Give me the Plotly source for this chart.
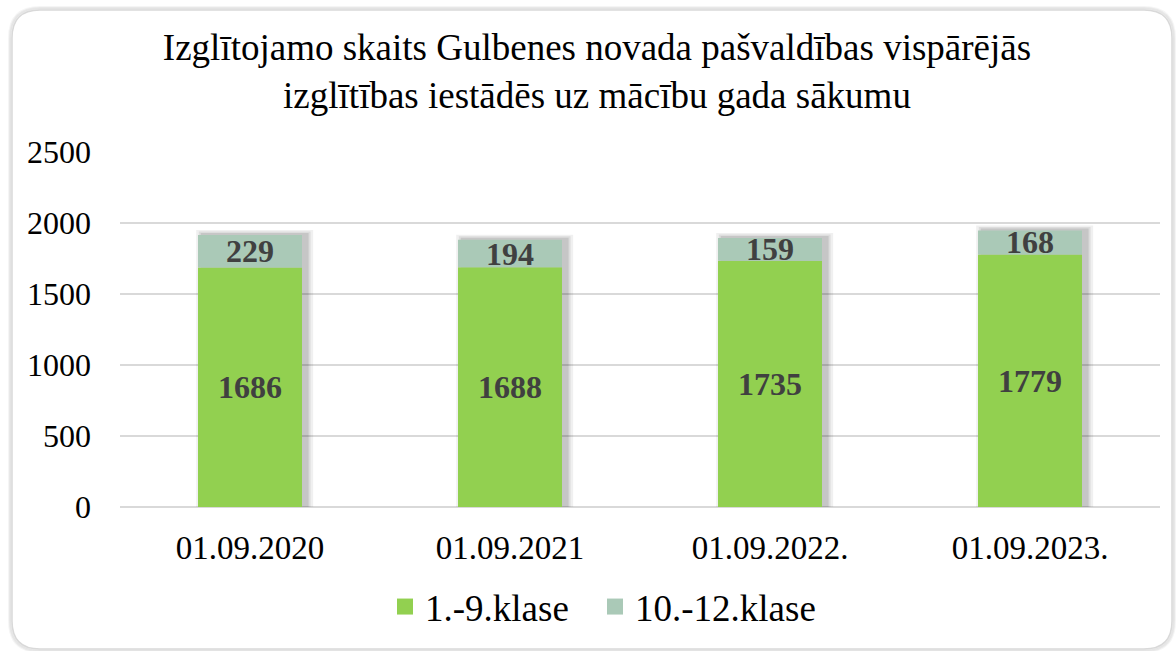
import plotly.graph_objects as go

categories = ["01.09.2020", "01.09.2021", "01.09.2022.", "01.09.2023."]
klase_1_9 = [1686, 1688, 1735, 1779]
klase_10_12 = [229, 194, 159, 168]
series_names = ["1.-9.klase", "10.-12.klase"]
series_colors = ["#92D050", "#AAC9B7"]
title_text = "Izglītojamo skaits Gulbenes novada pašvaldības vispārējās<br>izglītības iestādēs uz mācību gada sākumu"

W, H = 1176, 651
L, R, T, B = 120, 16, 152, 144
FONT = "Liberation Serif"

totals = [a + b for a, b in zip(klase_1_9, klase_10_12)]

fig = go.Figure()

# soft shadow behind bars
for i, (op, dw) in enumerate([(0.06, 0.05), (0.08, 0.03), (0.10, 0.015)]):
    fig.add_trace(go.Bar(
        x=categories, y=[t + 15 + 10 * (2 - i) for t in totals], base=0,
        width=0.4 + dw, offset=-0.2 + 0.012 - dw / 2 + 0.006,
        marker=dict(color=f"rgba(0,0,0,{op})", line=dict(width=0)),
        showlegend=False, hoverinfo="skip",
    ))

fig.add_trace(go.Bar(
    x=categories, y=klase_1_9, base=0, name=series_names[0],
    width=0.4, offset=-0.2, showlegend=False,
    marker=dict(color=series_colors[0], line=dict(width=0)),
    text=[str(v) for v in klase_1_9], textposition="inside",
    insidetextanchor="middle", constraintext="none",
    textfont=dict(family=FONT, size=32, color="#404040", weight="bold"),
))
fig.add_trace(go.Bar(
    x=categories, y=klase_10_12, base=klase_1_9, name=series_names[1],
    width=0.4, offset=-0.2, showlegend=False,
    marker=dict(color=series_colors[1], line=dict(width=0)),
    text=[str(v) for v in klase_10_12], textposition="inside",
    insidetextanchor="middle", constraintext="none",
    textfont=dict(family=FONT, size=32, color="#404040", weight="bold"),
))

# legend entries with larger square swatches
for name, color in zip(series_names, series_colors):
    fig.add_trace(go.Scatter(
        x=[None], y=[None], mode="markers", name=name,
        marker=dict(symbol="square", size=18, color=color),
        hoverinfo="skip",
    ))
# invisible spacer entry so the last legend label is not clipped
fig.add_trace(go.Scatter(
    x=[None], y=[None], mode="markers", name=" ",
    marker=dict(symbol="square", size=1, color="rgba(0,0,0,0)"),
    hoverinfo="skip",
))

def px(X):
    return (X - L) / (W - L - R)

def py(Y):
    return (H - B - Y) / (H - T - B)

def rounded_path(x0, y0, x1, y1, r):
    pts = [
        f"M {px(x0 + r)},{py(y0)}",
        f"L {px(x1 - r)},{py(y0)}",
        f"Q {px(x1)},{py(y0)} {px(x1)},{py(y0 + r)}",
        f"L {px(x1)},{py(y1 - r)}",
        f"Q {px(x1)},{py(y1)} {px(x1 - r)},{py(y1)}",
        f"L {px(x0 + r)},{py(y1)}",
        f"Q {px(x0)},{py(y1)} {px(x0)},{py(y1 - r)}",
        f"L {px(x0)},{py(y0 + r)}",
        f"Q {px(x0)},{py(y0)} {px(x0 + r)},{py(y0)}",
        "Z",
    ]
    return " ".join(pts)

shapes = []
for k, c in enumerate(["rgba(0,0,0,0.04)", "rgba(0,0,0,0.05)", "rgba(0,0,0,0.06)"]):
    d = 3 - k
    shapes.append(dict(type="path", xref="paper", yref="paper",
                       path=rounded_path(12 - d, 10 - d, 1172 + d, 649 + d, 28 + d),
                       line=dict(color=c, width=2), fillcolor="rgba(0,0,0,0)", layer="below"))
shapes.append(dict(type="path", xref="paper", yref="paper",
                   path=rounded_path(12, 10, 1172, 649, 28),
                   line=dict(color="#D9D9D9", width=1.5), fillcolor="white", layer="below"))

fig.update_layout(
    width=W, height=H,
    margin=dict(l=L, r=R, t=T, b=B, autoexpand=False),
    paper_bgcolor="white", plot_bgcolor="rgba(0,0,0,0)",
    barmode="overlay",
    font=dict(family=FONT, color="#000000"),
    title=dict(text=title_text, x=597 / W, xanchor="center", y=1 - 60 / H, yanchor="middle",
               font=dict(family=FONT, size=37, color="#000000")),
    xaxis=dict(showgrid=False, showline=False, ticks="", tickfont=dict(family=FONT, size=33, color="#000000"),
               ticklabelstandoff=18),
    yaxis=dict(range=[0, 2500], dtick=500, showgrid=True, gridcolor="#D9D9D9", gridwidth=1.5,
               zeroline=True, zerolinecolor="#D9D9D9", zerolinewidth=1.5, showline=False,
               tickfont=dict(family=FONT, size=32, color="#000000"), ticklabelstandoff=28),
    legend=dict(orientation="h", x=px(385), xanchor="left", y=py(607), yanchor="middle",
                font=dict(family=FONT, size=37, color="#000000"), itemwidth=30,
                entrywidth=165, entrywidthmode="pixels", itemsizing="trace",
                traceorder="normal", bgcolor="rgba(0,0,0,0)", itemclick=False, itemdoubleclick=False),
    shapes=shapes,
    showlegend=True,
)

fig.write_html("out.html", config={"displayModeBar": False},
               post_script="document.body.style.margin='0';document.body.style.padding='0';")
